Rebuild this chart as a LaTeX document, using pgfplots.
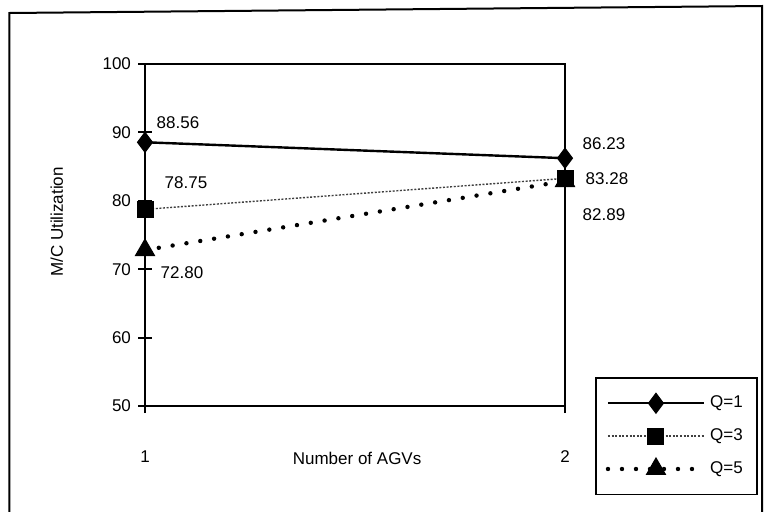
\documentclass[border=0pt]{standalone}
\usepackage{fontspec}
\setmainfont{Liberation Sans}
\usepackage{pgfplots}
\pgfplotsset{compat=1.18}
\newcommand{\lbl}{\fontsize{8.5pt}{10pt}\selectfont}
\begin{document}
\begin{tikzpicture}
\useasboundingbox (0,0) rectangle (382pt,255.5pt);
% chart frame
\draw[line width=1pt] (4.7pt,-5pt) -- (4.7pt,249pt) -- (381pt,252.5pt) -- (381pt,-5pt);
\begin{axis}[
  at={(72.5pt,52.5pt)}, anchor=south west,
  scale only axis, width=210pt, height=171pt,
  xmin=1, xmax=2, ymin=50, ymax=100,
  xtick={1,2}, ytick={50,60,...,100},
  clip=false,
  axis line style={line width=1pt},
  every tick/.style={black, line width=1pt},
  major tick length=7pt, tick align=center,
  xtick pos=bottom, ytick pos=left,
  /pgf/number format/assume math mode=true,
  tick label style={font=\lbl},
  xticklabel style={anchor=center, yshift=-22pt},
  label style={font=\lbl},
  xlabel={Number of AGVs},
  xlabel style={at={(axis description cs:0.505,-0.152)}, anchor=center},
  ylabel={M/C Utilization},
  ylabel style={at={(axis description cs:-0.21,0.538)}, anchor=center},
  legend style={at={(1.0714,0.0848)}, anchor=north west, draw=black,
    line width=0.8pt, font=\lbl, inner xsep=5pt, inner ysep=7pt,
    row sep=5pt, cells={anchor=west}},
  legend image code/.code={
    \draw[mark repeat=2, mark phase=2, #1]
      plot coordinates {(0pt,0pt) (24pt,0pt) (48pt,0pt)};
  },
]
% Q = 1
\addplot[black, line width=1.2pt, mark=diamond*,
  mark options={solid, fill=black, line width=0.5pt}, mark size=5pt]
  coordinates {(1,88.56) (2,86.23)};
\addlegendentry{Q=1}
% Q = 3
\addplot[black!75, line width=0.7pt, dash pattern=on 1pt off 0.8pt, mark=square*,
  mark options={solid, fill=black, draw=black, line width=0.5pt}, mark size=4pt]
  coordinates {(1,78.75) (2,83.28)};
\addlegendentry{Q=3}
% Q = 5
\addplot[black, line width=2.2pt, line cap=round, dash pattern=on 0pt off 7pt,
  mark=triangle*, mark options={solid, fill=black, line width=0.5pt}, mark size=5.5pt]
  coordinates {(1,72.80) (2,82.89)};
\addlegendentry{Q=5}
% value labels
\node[font=\lbl, xshift=16.5pt, yshift=10pt] at (axis cs:1,88.56) {88.56};
\node[font=\lbl, xshift=20.5pt, yshift=13.5pt] at (axis cs:1,78.75) {78.75};
\node[font=\lbl, xshift=18.5pt, yshift=-11.5pt] at (axis cs:1,72.80) {72.80};
\node[font=\lbl, xshift=19.5pt, yshift=7.5pt] at (axis cs:2,86.23) {86.23};
\node[font=\lbl, xshift=21pt, yshift=0pt] at (axis cs:2,83.28) {83.28};
\node[font=\lbl, xshift=19.5pt, yshift=-17pt] at (axis cs:2,82.89) {82.89};
\end{axis}
\end{tikzpicture}
\end{document}
